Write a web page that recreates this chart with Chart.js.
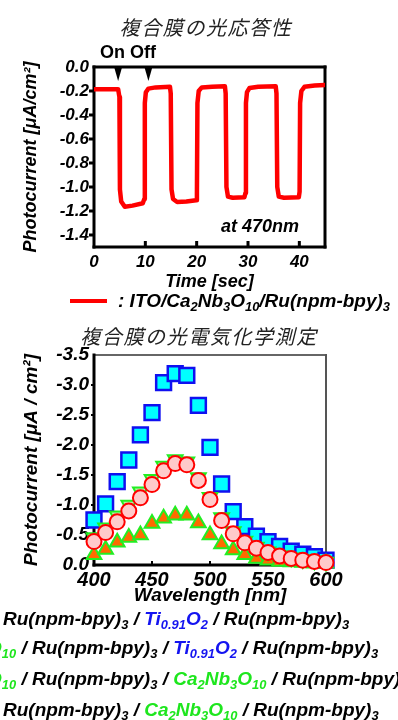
<!DOCTYPE html>
<html><head><meta charset="utf-8">
<script src="https://cdn.jsdelivr.net/npm/chart.js@4.4.0/dist/chart.umd.min.js"></script>
<style>
html,body{margin:0;padding:0;background:#fff;width:398px;height:720px;overflow:hidden;position:relative;}
canvas{position:absolute;left:0;}
.t{position:absolute;white-space:nowrap;font-family:'Liberation Sans',Arial,sans-serif;font-weight:bold;font-style:italic;color:#000;font-size:19px;line-height:20px;}
.jp{position:absolute;white-space:nowrap;font-family:'Noto Sans CJK JP',sans-serif;font-style:italic;font-size:20px;line-height:24px;color:#222;letter-spacing:1.6px;transform:translateX(-50%);}
.s{font-size:0.68em;vertical-align:-0.32em;line-height:0;}
.b{color:#1414f0;}
.g{color:#1ee61e;}
</style></head><body>
<canvas id="c1" width="398" height="300" style="top:0;width:398px;height:300px"></canvas>
<canvas id="c2" width="398" height="310" style="top:300px;width:398px;height:310px"></canvas>

<div class="jp" style="left:206px;top:15px">複合膜の光応答性</div>
<div class="t" style="left:100px;top:42px;font-style:normal;font-size:18px">On Off</div>
<div class="t" style="left:221px;top:216px;font-size:18px">at 470nm</div>
<div style="position:absolute;left:70px;top:299px;width:37px;height:4px;background:#ff0000"></div>
<div class="t" style="left:118px;top:291px">: ITO/Ca<span class="s">2</span>Nb<span class="s">3</span>O<span class="s">10</span>/Ru(npm-bpy)<span class="s">3</span></div>

<div class="jp" style="left:199px;top:324px">複合膜の光電気化学測定</div>

<div class="t" style="left:3px;top:609px">Ru(npm-bpy)<span class="s">3</span> / <span class="b">Ti<span class="s">0.91</span>O<span class="s">2</span></span> / Ru(npm-bpy)<span class="s">3</span></div>
<div class="t cut" style="left:0;top:638px"><span class="pre g">Ca<span class="s">2</span>Nb<span class="s">3</span>O<span class="s">10</span></span> / Ru(npm-bpy)<span class="s">3</span> / <span class="b">Ti<span class="s">0.91</span>O<span class="s">2</span></span> / Ru(npm-bpy)<span class="s">3</span></div>
<div class="t cut" style="left:0;top:669px"><span class="pre g">Ca<span class="s">2</span>Nb<span class="s">3</span>O<span class="s">10</span></span> / Ru(npm-bpy)<span class="s">3</span> / <span class="g">Ca<span class="s">2</span>Nb<span class="s">3</span>O<span class="s">10</span></span> / Ru(npm-bpy)<span class="s">3</span></div>
<div class="t" style="left:3px;top:700px">Ru(npm-bpy)<span class="s">3</span> / <span class="g">Ca<span class="s">2</span>Nb<span class="s">3</span>O<span class="s">10</span></span> / Ru(npm-bpy)<span class="s">3</span></div>

<script>
// ---------- Top chart data: photocurrent response at 470 nm ----------
const timeSec = [0, 4.7, 4.95, 5.05, 5.3, 6.0, 7.5, 9.5, 9.8, 9.9, 10.1, 10.6, 12, 14.8, 14.95, 15.1, 15.4, 16.2, 18, 19.9, 20.05, 20.15, 20.4, 21, 23, 25.5, 25.65, 25.8, 26.1, 27, 29.3, 29.5, 29.6, 29.8, 30.3, 32, 35.4, 35.55, 35.7, 36, 37, 39.9, 40.05, 40.15, 40.4, 41, 43, 45];
const currentUA = [-0.185, -0.185, -0.25, -1.02, -1.12, -1.165, -1.155, -1.135, -1.10, -0.30, -0.21, -0.18, -0.17, -0.165, -0.22, -1.02, -1.10, -1.125, -1.12, -1.11, -1.05, -0.30, -0.20, -0.17, -0.165, -0.16, -0.22, -1.0, -1.08, -1.09, -1.085, -1.05, -0.30, -0.21, -0.175, -0.165, -0.16, -0.22, -1.0, -1.08, -1.09, -1.085, -1.04, -0.30, -0.20, -0.165, -0.155, -0.15];
const onOffTimes = [4.7, 10.6];
const timeTicks = [0, 10, 20, 30, 40];
const currentTicks = [0, -0.2, -0.4, -0.6, -0.8, -1.0, -1.2, -1.4];

// ---------- Bottom chart data: action spectra ----------
const wavelength = [400, 410, 420, 430, 440, 450, 460, 470, 480, 490, 500, 510, 520, 530, 540, 550, 560, 570, 580, 590, 600];
const squaresTi   = [-0.75, -1.02, -1.39, -1.75, -2.17, -2.54, -3.04, -3.19, -3.16, -2.66, -1.96, -1.35, -0.89, -0.64, -0.48, -0.39, -0.31, -0.23, -0.18, -0.14, -0.08];
const circlesMix  = [-0.39, -0.54, -0.72, -0.90, -1.12, -1.34, -1.57, -1.69, -1.67, -1.41, -1.09, -0.74, -0.52, -0.37, -0.28, -0.21, -0.15, -0.11, -0.08, -0.06, -0.04];
const invTriMix   = [-0.46, -0.62, -0.82, -1.00, -1.22, -1.43, -1.65, -1.76, -1.72, -1.46, -1.13, -0.79, -0.56, -0.40, -0.30, -0.22, -0.16, -0.12, -0.09, -0.07, -0.05];
const trianglesCa = [-0.17, -0.26, -0.38, -0.46, -0.50, -0.69, -0.78, -0.83, -0.83, -0.70, -0.50, -0.35, -0.25, -0.17, -0.11, -0.08, -0.06, -0.05, -0.04, -0.03, -0.03];
const wlTicks = [400, 450, 500, 550, 600];
const pcTicks = [0, -0.5, -1.0, -1.5, -2.0, -2.5, -3.0, -3.5];

const FAM = "'Liberation Sans', Arial, sans-serif";
const bi = (size) => ({family: FAM, size: size, style: 'italic', weight: 'bold'});

function framePlugin(o) {
  return {
    id: 'frame',
    beforeDatasetsDraw(chart) {
      const ctx = chart.ctx;
      const {left, right, top, bottom} = chart.chartArea;
      ctx.save();
      ctx.lineCap = 'square';
      const line = (x1, y1, x2, y2, w, c) => { ctx.beginPath(); ctx.lineWidth = w; ctx.strokeStyle = c; ctx.moveTo(x1, y1); ctx.lineTo(x2, y2); ctx.stroke(); };
      line(left, top, right, top, o.topW, o.topC);
      line(right, top, right, bottom, o.rightW, o.rightC);
      line(left, bottom, right, bottom, o.botW, '#000');
      line(left, top, left, bottom, o.leftW, '#000');
      ctx.lineCap = 'butt';
      const xs = chart.scales.x, ys = chart.scales.y;
      xs.ticks.forEach(t => {
        const px = xs.getPixelForValue(t.value);
        if (Math.abs(px - left) < 2 || Math.abs(px - right) < 2) return;
        line(px, bottom, px, bottom - o.xTickLen, o.xTickW, '#000');
      });
      ys.ticks.forEach(t => {
        const py = ys.getPixelForValue(t.value);
        if (Math.abs(py - top) < 2 || Math.abs(py - bottom) < 2) return;
        line(left, py, left - o.yTickLen, py, o.yTickW, '#000');
      });
      ctx.restore();
    }
  };
}

const arrowPlugin = {
  id: 'arrows',
  afterDatasetsDraw(chart) {
    const ctx = chart.ctx, xs = chart.scales.x, top = chart.chartArea.top;
    ctx.save();
    ctx.fillStyle = '#000';
    onOffTimes.forEach(t => {
      const px = xs.getPixelForValue(t);
      ctx.beginPath();
      ctx.moveTo(px - 4, top);
      ctx.lineTo(px + 4, top);
      ctx.lineTo(px, top + 14);
      ctx.closePath();
      ctx.fill();
    });
    ctx.restore();
  }
};

new Chart(document.getElementById('c1'), {
  type: 'line',
  data: {datasets: [{
    data: timeSec.map((t, i) => ({x: t, y: currentUA[i]})),
    borderColor: '#ff0000', borderWidth: 4.5, pointRadius: 0, tension: 0,
    borderJoinStyle: 'round', borderCapStyle: 'round', fill: false
  }]},
  options: {
    responsive: false, animation: false, devicePixelRatio: 1,
    layout: {padding: {left: 0, top: 67, right: 73, bottom: 0}},
    plugins: {legend: {display: false}, tooltip: {enabled: false}},
    scales: {
      x: {
        type: 'linear', min: 0, max: 45,
        afterBuildTicks: s => { s.ticks = timeTicks.map(v => ({value: v})); },
        afterFit: s => { s.height = 53; },
        grid: {display: false, drawTicks: false}, border: {display: false},
        ticks: {padding: 5, color: '#000', font: bi(17), autoSkip: false, maxRotation: 0, callback: v => String(v)},
        title: {display: true, text: 'Time [sec]', color: '#000', font: bi(18), padding: {top: 0, bottom: 7}}
      },
      y: {
        type: 'linear', min: -1.5, max: 0,
        afterBuildTicks: s => { s.ticks = currentTicks.map(v => ({value: v})); },
        afterFit: s => { s.width = 94; },
        grid: {display: false, drawTicks: false}, border: {display: false},
        ticks: {padding: 5, color: '#000', font: bi(17), autoSkip: false, callback: v => v.toFixed(1)},
        title: {display: true, text: 'Photocurrent [μA/cm²]', color: '#000', font: bi(18), padding: {top: 20, bottom: 0}}
      }
    }
  },
  plugins: [framePlugin({topW: 3, topC: '#000', rightW: 3, rightC: '#000', botW: 3, leftW: 3, xTickLen: 6, xTickW: 3, yTickLen: 5, yTickW: 3}), arrowPlugin]
});

const mk = (vals) => wavelength.map((w, i) => ({x: w, y: vals[i]}));

new Chart(document.getElementById('c2'), {
  type: 'scatter',
  data: {datasets: [
    {data: mk(circlesMix), pointStyle: 'circle', pointRadius: 7.5, borderWidth: 2, borderColor: '#ff0000', backgroundColor: '#ffcaca', clip: false},
    {data: mk(invTriMix), pointStyle: 'triangle', pointRotation: 180, pointRadius: 8.5, borderWidth: 2, borderColor: '#22ee22', backgroundColor: '#b6f3a8', clip: false},
    {data: mk(trianglesCa), pointStyle: 'triangle', pointRadius: 8.5, borderWidth: 2, borderColor: '#22ee22', backgroundColor: '#ff6a00', clip: false},
    {data: mk(squaresTi), pointStyle: 'rect', pointRadius: 10.5, borderWidth: 2.5, borderColor: '#1010f0', backgroundColor: '#00ffff', clip: false}
  ]},
  options: {
    responsive: false, animation: false, devicePixelRatio: 1,
    layout: {padding: {left: 0, top: 55, right: 72, bottom: 0}},
    plugins: {legend: {display: false}, tooltip: {enabled: false}},
    scales: {
      x: {
        type: 'linear', min: 400, max: 600,
        afterBuildTicks: s => { s.ticks = wlTicks.map(v => ({value: v})); },
        afterFit: s => { s.height = 45; },
        grid: {display: false, drawTicks: false}, border: {display: false},
        ticks: {padding: 3, color: '#000', font: bi(20), autoSkip: false, maxRotation: 0, callback: v => String(v)},
        title: {display: true, text: 'Wavelength [nm]', color: '#000', font: bi(19), padding: {top: 0, bottom: 3}}
      },
      y: {
        type: 'linear', min: -3.5, max: 0, reverse: true,
        afterBuildTicks: s => { s.ticks = pcTicks.map(v => ({value: v})); },
        afterFit: s => { s.width = 94; },
        grid: {display: false, drawTicks: false}, border: {display: false},
        ticks: {padding: 5, color: '#000', font: bi(19), autoSkip: false, callback: v => v.toFixed(1)},
        title: {display: true, text: 'Photocurrent [μA / cm²]', color: '#000', font: bi(19), padding: {top: 20, bottom: 0}}
      }
    }
  },
  plugins: [framePlugin({topW: 1.5, topC: '#333', rightW: 2, rightC: '#555', botW: 3, leftW: 3, xTickLen: 4, xTickW: 2, yTickLen: 3, yTickW: 2})]
});

document.querySelectorAll('.cut').forEach(el => {
  const p = el.querySelector('.pre');
  el.style.left = (16 - p.offsetWidth) + 'px';
});
</script>
</body></html>
